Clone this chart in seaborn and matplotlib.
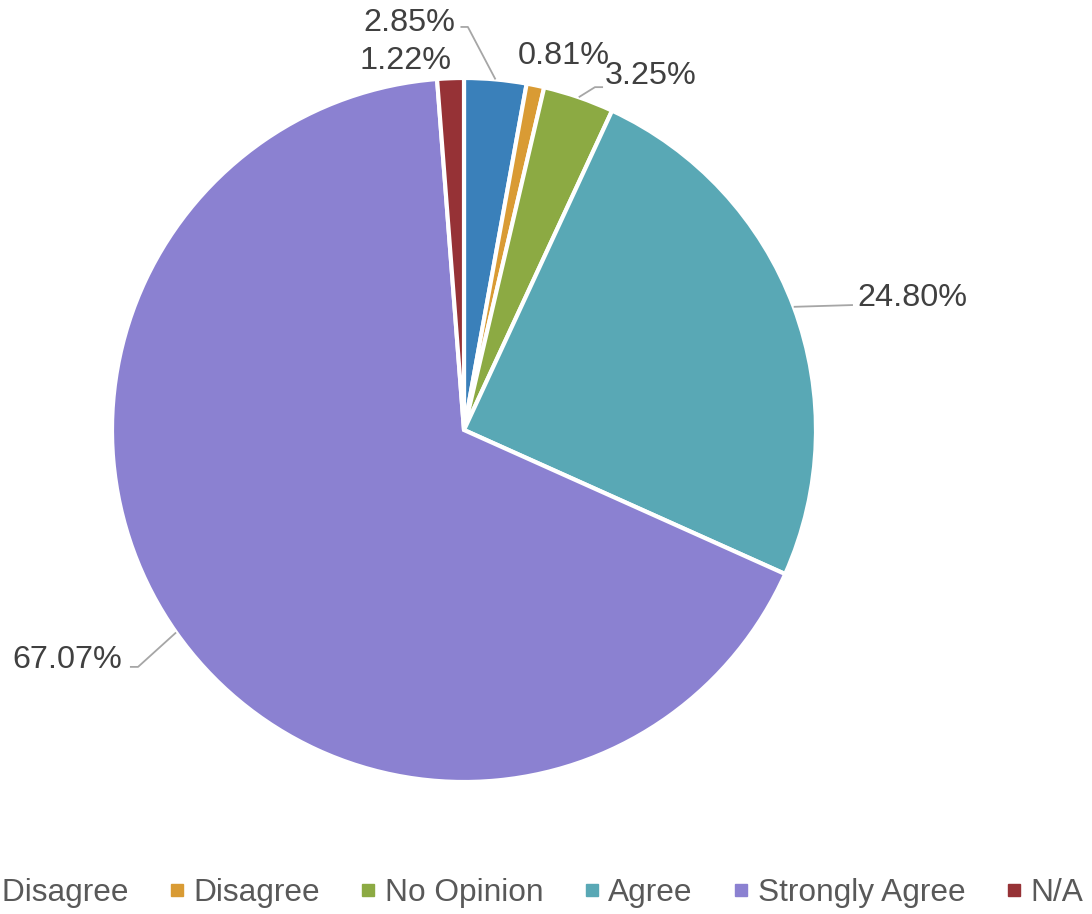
import matplotlib
matplotlib.use("Agg")
import matplotlib.pyplot as plt
from matplotlib.lines import Line2D
import numpy as np
import seaborn as sns

categories = ["Strongly Disagree", "Disagree", "No Opinion", "Agree", "Strongly Agree", "N/A"]
values = [2.85, 0.81, 3.25, 24.80, 67.07, 1.22]
colors_hex = ["#3A80BA", "#D99B34", "#8CAA43", "#59A8B5", "#8B81D1", "#963236"]

sns.set_theme(style="white")
plt.rcParams["font.family"] = ["Liberation Sans", "DejaVu Sans"]
palette = sns.color_palette(colors_hex)

W, H = 1092, 914
fig = plt.figure(figsize=(W / 100, H / 100), dpi=100)
cx, cy, R = 464, 430, 352
ax = fig.add_axes([(cx - R) / W, (H - cy - R) / H, 2 * R / W, 2 * R / H])

wedges, _ = ax.pie(values, colors=palette, startangle=90, counterclock=False, radius=1,
                   wedgeprops=dict(edgecolor="white", linewidth=3))
ax.set_xlim(-1, 1)
ax.set_ylim(-1, 1)
ax.set_axis_off()

txt_color = "#404040"
line_color = "#A6A6A6"
fs = 23.3

# label layout: (text x, text y, ha, elbow point or None, end of horizontal segment or None)
layout = [
    (-0.024, 1.155, "right", (0.011, 1.145), (-0.010, 1.145)),
    (0.282, 1.062, "center", None, None),
    (0.400, 1.006, "left", (0.372, 0.974), (0.395, 0.974)),
    (1.117, 0.375, "left", (1.105, 0.355), (1.105, 0.355)),
    (-0.972, -0.653, "right", (-0.926, -0.673), (-0.949, -0.673)),
    (-0.036, 1.047, "right", None, None),
]

cum = 0
for v, (tx, ty, ha, elbow, end) in zip(values, layout):
    mid = np.deg2rad(90 - (cum + v / 2) * 3.6)
    cum += v
    ax.text(tx, ty, f"{v:.2f}%", ha=ha, va="center", fontsize=fs, color=txt_color, clip_on=False)
    if elbow is not None:
        px, py = np.cos(mid), np.sin(mid)
        ax.plot([px, elbow[0], end[0]], [py, elbow[1], end[1]], color=line_color, lw=1.3,
                clip_on=False, solid_capstyle="butt")

handles = [Line2D([0], [0], marker="s", linestyle="", markersize=8, markerfacecolor=c,
                  markeredgecolor=c) for c in palette]
fig.legend(handles, categories, loc="center right", bbox_to_anchor=(1083 / W, 1 - 893 / H),
           ncol=6, frameon=False, fontsize=22.8, handlelength=0.6, handletextpad=0.22,
           columnspacing=1.23, labelcolor="#595959", borderpad=0, borderaxespad=0)

fig.savefig("out.png", dpi=100, facecolor="white")
